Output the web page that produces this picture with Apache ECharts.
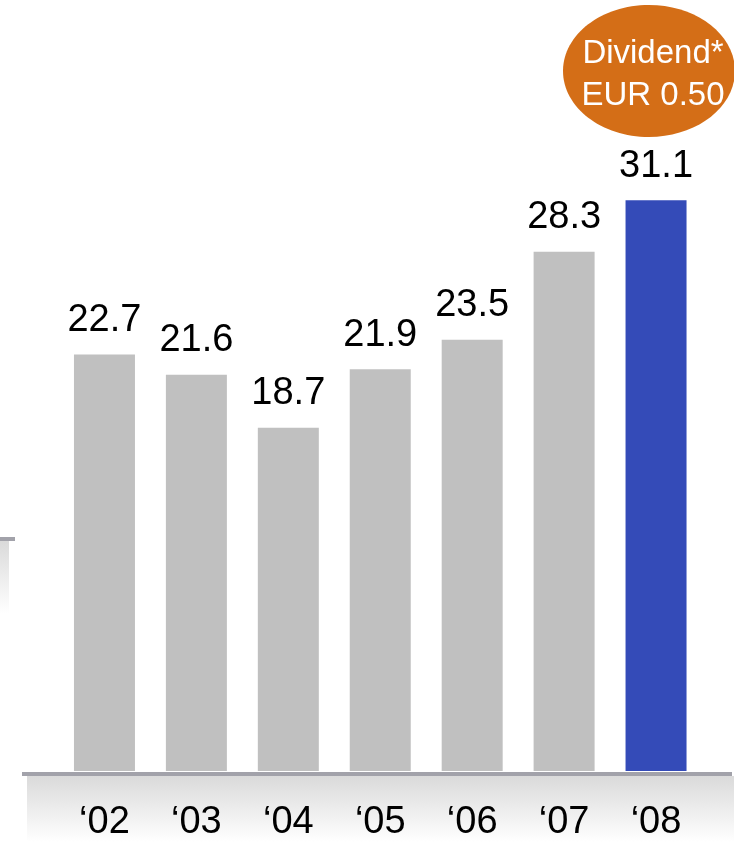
<!DOCTYPE html>
<html>
<head>
<meta charset="utf-8">
<style>
  html, body { margin: 0; padding: 0; background: #ffffff; }
  #chart { width: 734px; height: 842px; }
</style>
<script src="https://cdn.jsdelivr.net/npm/echarts@6/dist/echarts.min.js"></script>
</head>
<body>
<div id="chart"></div>
<script>
var categories = ["\u201802", "\u201803", "\u201804", "\u201805", "\u201806", "\u201807", "\u201808"];
var values = [22.7, 21.6, 18.7, 21.9, 23.5, 28.3, 31.1];
var barColors = ["#C0C0C0", "#C0C0C0", "#C0C0C0", "#C0C0C0", "#C0C0C0", "#C0C0C0", "#344BB8"];
var calloutLines = ["Dividend*", "EUR 0.50"];

var chart = echarts.init(document.getElementById('chart'), null, { renderer: 'canvas' });
var FONT = '"Liberation Sans", Arial, sans-serif';

chart.setOption({
  animation: false,
  backgroundColor: '#ffffff',
  grid: { left: 58.5, right: 32, top: 37, bottom: 68, containLabel: false },
  xAxis: {
    type: 'category',
    data: categories,
    axisLine: { show: false },
    axisTick: { show: false },
    axisLabel: { color: '#000000', fontSize: 38, fontFamily: FONT, margin: 33 }
  },
  yAxis: {
    type: 'value',
    min: 0, max: 40,
    show: false,
    splitLine: { show: false }
  },
  graphic: [
    {
      type: 'rect', z: -1,
      shape: { x: 27, y: 776, width: 707, height: 66 },
      style: { fill: new echarts.graphic.LinearGradient(0, 0, 0, 1, [
        { offset: 0, color: '#DADADA' }, { offset: 1, color: '#FFFFFF' }]) }
    },
    {
      type: 'rect', z: 10,
      shape: { x: 22, y: 772, width: 710, height: 4 },
      style: { fill: '#A2A2AA' }
    },
    {
      type: 'rect', z: -1,
      shape: { x: 0, y: 541, width: 9, height: 72 },
      style: { fill: new echarts.graphic.LinearGradient(0, 0, 0, 1, [
        { offset: 0, color: '#DADADA' }, { offset: 1, color: '#FFFFFF' }]) }
    },
    {
      type: 'rect', z: 10,
      shape: { x: 0, y: 537, width: 15, height: 4 },
      style: { fill: '#A2A2AA' }
    },
    {
      type: 'ellipse', z: 10,
      shape: { cx: 649, cy: 71, rx: 86, ry: 66 },
      style: { fill: '#D46E17' }
    },
    {
      type: 'text', z: 11,
      x: 653, y: 33,
      style: { text: calloutLines.join('\n'), fill: '#ffffff', font: '33px ' + FONT, lineHeight: 42, align: 'center', verticalAlign: 'top' }
    }
  ],
  series: [{
    type: 'bar',
    barWidth: 61,
    data: values.map(function (v, i) { return { value: v, itemStyle: { color: barColors[i] } }; }),
    label: {
      show: true, position: 'top', distance: 15,
      color: '#000000', fontSize: 38, fontFamily: FONT,
      formatter: function (p) { return p.value.toFixed(1); }
    }
  }]
});
</script>
</body>
</html>
